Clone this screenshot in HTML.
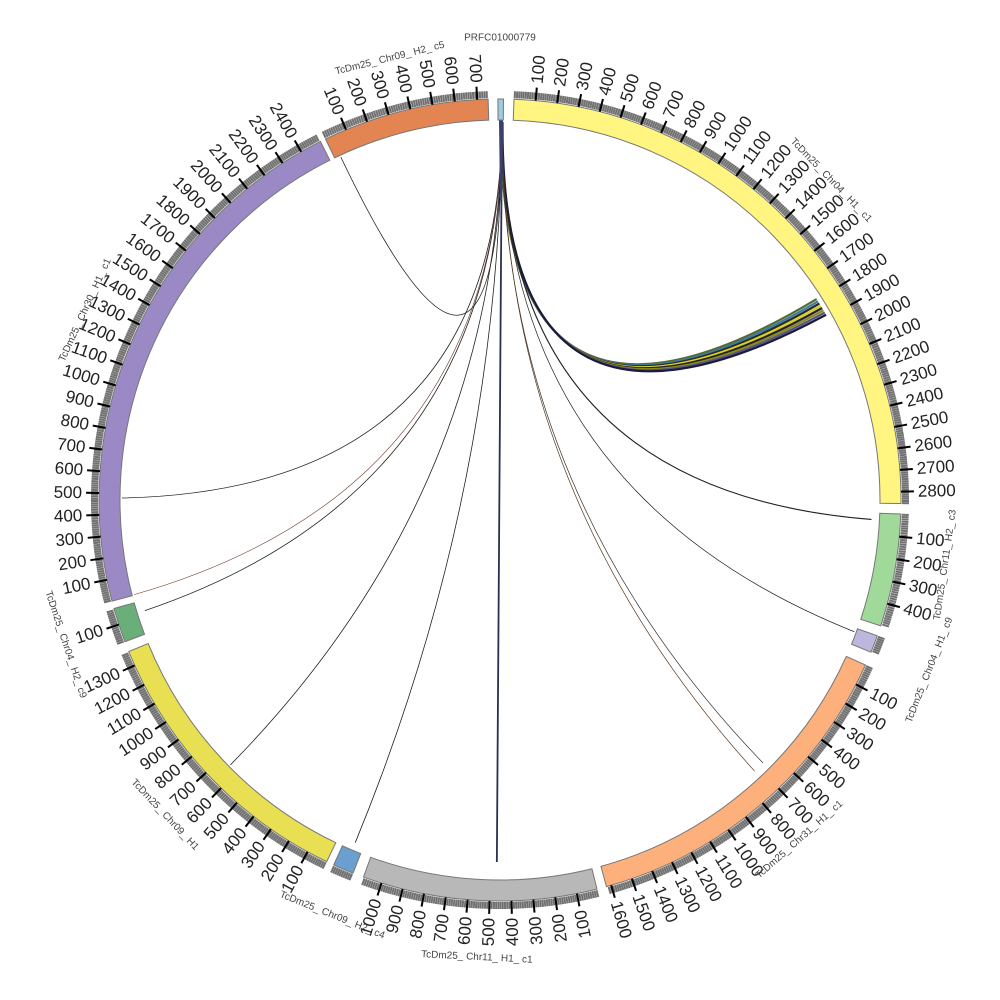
<!DOCTYPE html>
<html><head><meta charset="utf-8"><style>
html,body{margin:0;padding:0;background:#fff;}
svg{display:block;}
</style></head><body>
<svg id="c" width="1000" height="1000" viewBox="0 0 1000 1000" xmlns="http://www.w3.org/2000/svg"></svg>
<script>
var S=document.getElementById('c'),NS='http://www.w3.org/2000/svg';
function P(r,t){var a=t*Math.PI/180;return [500+r*Math.sin(a),500-r*Math.cos(a)];}
function el(n,at,txt){var e=document.createElementNS(NS,n);for(var k in at)e.setAttribute(k,at[k]);if(txt!==undefined)e.textContent=txt;S.appendChild(e);return e;}
var segs=[
 {n:'PRFC01000779',a0:-0.3,a1:0.5,len:0,c:'#9ecae1',lt:0,lr:462,ticks:false},
 {n:'TcDm25_Chr04_H1_c1',a0:2.0,a1:90.5,len:2850,c:'#fff580',lt:46,lr:460,k:3.1,s:2.0},
 {n:'TcDm25_Chr11_H2_c3',a0:92,a1:108.3,len:490,c:'#a1d99b',lt:98.3,lr:450,k:3.25,s:92},
 {n:'TcDm25_Chr04_H1_c9',a0:109.8,a1:112.3,len:0,c:'#bcb8dd',lt:111.6,lr:462,ticks:false,band:true},
 {n:'TcDm25_Chr31_H1_c1',a0:114.3,a1:164.6,len:1620,c:'#fdb07b',lt:138.6,lr:453,k:3.1,s:114.3},
 {n:'TcDm25_Chr11_H1_c1',a0:166,a1:199.9,len:1080,c:'#b8b8b8',lt:182.9,lr:458,k:3.14,s:165.8},
 {n:'TcDm25_Chr09_H2_c4',a0:201.5,a1:204.5,len:0,c:'#6a9fd0',lt:202,lr:448,ticks:false,band:true},
 {n:'TcDm25_Chr09_H1',a0:205.6,a1:247.8,len:1370,c:'#e8df52',lt:226.8,lr:460,k:3.08,s:205.6},
 {n:'TcDm25_Chr04_H2_c9',a0:249.3,a1:254.3,len:160,c:'#6aaf7a',lt:251.6,lr:458,k:3.1,s:248.8},
 {n:'TcDm25_Chr30_H1_c1',a0:255.4,a1:333.4,len:2450,c:'#9a89c4',lt:294.6,lr:456,k:3.12,s:255.4},
 {n:'TcDm25_Chr09_H2_c5',a0:334.2,a1:358.3,len:750,c:'#e38453',lt:346,lr:455,k:3.22,s:334.2}
];
function link(t0,t1,col,w,r1){r1=r1||378;var a=P(378,t0),b=P(r1,t1);
 el('path',{d:'M'+a[0]+','+a[1]+' Q500,490 '+b[0]+','+b[1],fill:'none',stroke:col,'stroke-width':w});}
var bcols=['#556b2f','#3a7ca5','#2a2a2a','#d8d020','#222','#8a8a20','#555580','#1a1a40'];
for(var i=0;i<8;i++){link(0.1+i*0.04,57.6+i*0.4,bcols[i],2.2,375);}
link(0.3,270.3,'#222',0.8);link(0.3,335.1,'#222',0.8);
link(0.3,93,'#222',1.1,372);link(0.3,110.4,'#222',0.7);
link(0.3,135,'#333',0.7,372);link(0.4,136.8,'#5a3a1a',0.7,372);
link(0.3,180.5,'#2a3050',1.8,362);link(0.3,202.9,'#222',0.8,372);
link(0.3,225.5,'#222',0.8);link(0.3,252.7,'#222',0.8,372);
link(0.3,255.5,'#6a3a2a',0.6);
el('path',{d:'M499,120 L503,120 L502,200 L500,200 Z',fill:'#3a4070'});
segs.forEach(function(g){
 var o1=P(401,g.a0),o2=P(401,g.a1),i1=P(380,g.a1),i2=P(380,g.a0);
 var lg=(g.a1-g.a0)>180?1:0;
 el('path',{d:'M'+o1+' A401,401 0 '+lg+' 1 '+o2+' L'+i1+' A380,380 0 '+lg+' 0 '+i2+' Z',fill:g.c,stroke:'#777','stroke-width':1});
 if(g.ticks!==false||g.band){
  var step=g.k?g.k/10:0.31;
  for(var t=g.a0+0.1;t<=g.a1;t+=step){var a=P(402,t),b=P(409,t);
   el('line',{x1:a[0],y1:a[1],x2:b[0],y2:b[1],stroke:'#707070','stroke-width':2});}
 }
 if(g.ticks!==false){
  for(var v=100;v<=g.len;v+=100){var t=g.s+v/100*g.k;if(t>g.a1+0.01)break;
   var a=P(401,t),b=P(414,t);
   el('line',{x1:a[0],y1:a[1],x2:b[0],y2:b[1],stroke:'#000','stroke-width':2});
   var p=P(418,t),rot,anc;
   if(t<166){rot=t-90;anc='start';}else{rot=t+90;anc='end';}
   el('text',{x:p[0],y:p[1],transform:'rotate('+rot+' '+p[0]+' '+p[1]+')','text-anchor':anc,'dominant-baseline':'central','font-family':'Liberation Sans, sans-serif','font-size':17,fill:'#222'},String(v));
  }
 }
 var q=P(g.lr,g.lt),th=g.lt,r2=(th>90&&th<270)?th-180:th;
 el('text',{x:q[0],y:q[1],transform:'rotate('+r2+' '+q[0]+' '+q[1]+')','text-anchor':'middle','dominant-baseline':'central','font-family':'Liberation Sans, sans-serif','font-size':10,fill:'#444'},g.n.replace('TcDm25_','TcDm25_ ').replace(/_(H\d)/,'_ $1').replace(/_(c\d)/,'_ $1'));
});
</script>
</body></html>
